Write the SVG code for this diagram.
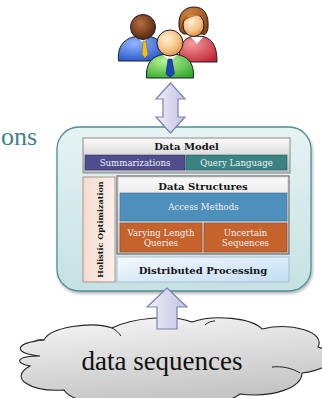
<svg xmlns="http://www.w3.org/2000/svg" width="322" height="398" viewBox="0 0 322 398">
  <style>
    .title { font-family: "DejaVu Serif", "Liberation Serif", serif; font-weight: bold; font-size: 10px; fill: #151515; text-anchor: middle; }
    .lbl { font-family: "DejaVu Serif", "Liberation Serif", serif; font-size: 8.6px; fill: #eef0f4; text-anchor: middle; }
    .panel { stroke: #8a8a8a; stroke-width: 1; }
    .arrow { fill: url(#arrowFill); stroke: #7f7fb2; stroke-width: 1.2; stroke-linejoin: miter; }
    .outline { stroke: #1e1e2a; stroke-width: 1; }
    .fold { fill: none; stroke: #222; stroke-width: 1; }
  </style>
  <defs>
    <linearGradient id="containerFill" x1="0" y1="0" x2="0" y2="1">
      <stop offset="0" stop-color="#e6f3f3"/>
      <stop offset="1" stop-color="#c6e1e3"/>
    </linearGradient>
    <linearGradient id="grayFill" x1="0" y1="0" x2="0" y2="1">
      <stop offset="0" stop-color="#fafafa"/>
      <stop offset="1" stop-color="#bdbdbd"/>
    </linearGradient>
    <linearGradient id="peachFill" x1="0" y1="0" x2="1" y2="0">
      <stop offset="0" stop-color="#f3dccf"/>
      <stop offset="1" stop-color="#fbf0ea"/>
    </linearGradient>
    <linearGradient id="blueLight" x1="0" y1="0" x2="1" y2="1">
      <stop offset="0" stop-color="#f4f9fe"/>
      <stop offset="1" stop-color="#c3ddf3"/>
    </linearGradient>
    <linearGradient id="arrowFill" x1="0" y1="0" x2="1" y2="0">
      <stop offset="0" stop-color="#eeeef9"/>
      <stop offset="1" stop-color="#c3c3e2"/>
    </linearGradient>
    <linearGradient id="cloudFill" x1="0" y1="0" x2="0.3" y2="1">
      <stop offset="0" stop-color="#f7f7f7"/>
      <stop offset="1" stop-color="#c4c4c4"/>
    </linearGradient>
    <radialGradient id="skin" cx="0.4" cy="0.35" r="0.7">
      <stop offset="0" stop-color="#fff0d8"/>
      <stop offset="0.6" stop-color="#f7c384"/>
      <stop offset="1" stop-color="#d98a3e"/>
    </radialGradient>
    <radialGradient id="brownSkin" cx="0.4" cy="0.35" r="0.7">
      <stop offset="0" stop-color="#b86d40"/>
      <stop offset="1" stop-color="#4e230c"/>
    </radialGradient>
    <radialGradient id="hair" cx="0.4" cy="0.3" r="0.7">
      <stop offset="0" stop-color="#d88a40"/>
      <stop offset="1" stop-color="#8a4414"/>
    </radialGradient>
    <radialGradient id="blueBody" cx="0.35" cy="0.3" r="0.8">
      <stop offset="0" stop-color="#8fb6ff"/>
      <stop offset="1" stop-color="#2350c8"/>
    </radialGradient>
    <radialGradient id="redBody" cx="0.35" cy="0.3" r="0.8">
      <stop offset="0" stop-color="#f59a9a"/>
      <stop offset="1" stop-color="#c02838"/>
    </radialGradient>
    <radialGradient id="greenBody" cx="0.4" cy="0.3" r="0.8">
      <stop offset="0" stop-color="#b8f59a"/>
      <stop offset="1" stop-color="#30a828"/>
    </radialGradient>
    <filter id="soft" x="-10%" y="-10%" width="120%" height="120%">
      <feGaussianBlur in="SourceAlpha" stdDeviation="1.5"/>
      <feOffset dx="1" dy="1.5"/>
      <feComponentTransfer><feFuncA type="linear" slope="0.3"/></feComponentTransfer>
      <feMerge><feMergeNode/><feMergeNode in="SourceGraphic"/></feMerge>
    </filter>
  </defs>

  <!-- partial heading at the left edge -->
  <text x="1" y="145" font-family="Liberation Serif, serif" font-size="26" fill="#3d8488">ons</text>

  <!-- users -->
  <g id="users">
    <!-- back left -->
    <path class="outline" fill="url(#blueBody)" d="M118.5 61 C117 44 126 36 143 36 C158 36 166 43 166 61 Z"/>
    <path fill="#ffffff" d="M137 37 L143 43 L149 37 Z"/>
    <path fill="#e8c020" stroke="#806010" stroke-width="0.5" d="M143 41 L146 41 L148 55 L144.5 58 L142 54 Z"/>
    <circle class="outline" cx="143" cy="27" r="12.5" fill="url(#brownSkin)"/>
    <!-- back right -->
    <path class="outline" fill="url(#redBody)" d="M179 62 C178 44 185 36 197 36 C211 36 217 44 217 62 Z"/>
    <path fill="#ffffff" d="M191 37 L197 44 L203 37 Z"/>
    <path class="outline" fill="url(#hair)" d="M179 26 C178 12 186 7 194 7 C204 7 209 14 208 28 C207 34 204 36 203 34 L184 34 C181 33 179 30 179 26 Z"/>
    <ellipse class="outline" cx="193.5" cy="25" rx="10.5" ry="11.5" fill="url(#skin)"/>
    <path fill="url(#hair)" d="M183 22 C184 12 196 10 204 16 C198 15 190 16 183 22 Z"/>
    <!-- front -->
    <path class="outline" fill="url(#greenBody)" d="M146.5 78 C145.5 61 154 54 170 54 C186 54 194.5 61 193.5 78 Z"/>
    <path fill="#ffffff" d="M163 55 L170 62 L177 55 Z"/>
    <path fill="#1d46b8" stroke="#0c1e60" stroke-width="0.5" d="M168 59 L172 59 L174.5 74 L170 77.5 L166 74 Z"/>
    <circle class="outline" cx="170" cy="43" r="13" fill="url(#skin)"/>
  </g>

  <!-- system container -->
  <g id="system">
    <rect x="57" y="127" width="254" height="164" rx="22" fill="url(#containerFill)" stroke="#4f8f92" stroke-width="1.3" filter="url(#soft)"/>
  </g>

  <g id="data-model">
    <rect class="panel" x="83" y="138" width="207" height="35" fill="url(#grayFill)"/>
    <text class="title" x="186.5" y="150">Data Model</text>
  </g>
  <g id="summarizations">
    <rect x="85" y="155" width="100" height="15" fill="#4e4e8e" stroke="#35356a" stroke-width="0.6"/>
    <text class="lbl" x="135" y="165.5">Summarizations</text>
  </g>
  <g id="query-language">
    <rect x="186" y="155" width="101" height="15" fill="#3a8383" stroke="#275f5f" stroke-width="0.6"/>
    <text class="lbl" x="236.5" y="165.5">Query Language</text>
  </g>

  <g id="holistic-optimization">
    <rect x="83" y="177" width="32" height="105" fill="url(#peachFill)" stroke="#9a8274" stroke-width="0.8"/>
    <text class="title" transform="translate(102.5 229.5) rotate(-90)" style="font-size:8px">Holistic Optimization</text>
  </g>

  <g id="data-structures">
    <rect x="117" y="176" width="172" height="78" fill="url(#grayFill)" stroke="#6e6e6e" stroke-width="1.2"/>
    <rect x="118.5" y="177.5" width="169" height="75" fill="none" stroke="#d8d8d8" stroke-width="0.6"/>
    <text class="title" x="203" y="189.5">Data Structures</text>
  </g>
  <g id="access-methods">
    <rect x="120" y="193" width="167" height="28" fill="#4f8fbb" stroke="#3a7098" stroke-width="0.6"/>
    <text class="lbl" x="203.5" y="210">Access Methods</text>
  </g>
  <g id="varying-length-queries">
    <rect x="120" y="223" width="82" height="29" fill="#c6622c" stroke="#8e4318" stroke-width="0.6"/>
    <text class="lbl" x="161" y="235.5">Varying Length</text>
    <text class="lbl" x="161" y="245.5">Queries</text>
  </g>
  <g id="uncertain-sequences">
    <rect x="204" y="223" width="83" height="29" fill="#c6622c" stroke="#8e4318" stroke-width="0.6"/>
    <text class="lbl" x="245.5" y="235.5">Uncertain</text>
    <text class="lbl" x="245.5" y="245.5">Sequences</text>
  </g>
  <g id="distributed-processing">
    <rect x="117" y="257" width="172" height="25" fill="url(#blueLight)" stroke="#9fb7cc" stroke-width="0.8"/>
    <text class="title" x="203" y="273.5">Distributed Processing</text>
  </g>

  <!-- data source cloud -->
  <g id="data-sequences">
    <path fill="url(#cloudFill)" stroke="#222" stroke-width="1.1" d="M40 356 C14 354 12 343 44 340 C50 327 92 321 112 328 C132 318 172 314 192 322 C214 314 252 318 262 329 C292 322 326 332 318 347 C336 352 338 368 302 373 C302 388 272 398 240 394 C222 408 172 408 150 400 C120 408 72 404 64 390 C30 392 8 378 30 366 C14 363 16 356 40 356 Z"/>
    <path class="fold" d="M33 342 C36 340 40 339 44 340"/>
    <path class="fold" d="M205 325 C208 322 212 321 215 321"/>
    <path class="fold" d="M300 373 C292 368 282 366 272 367"/>
    <path class="fold" d="M112 328 C116 330 119 333 121 336"/>
    <text x="162" y="370" font-family="Liberation Serif, serif" font-size="27" fill="#111" text-anchor="middle">data sequences</text>
  </g>

  <g id="connectors">
    <!-- two-way arrow between users and the system -->
    <path class="arrow" d="M170.5 83 L185 99 L178 99 L178 117 L185 117 L170.5 133 L156 117 L163 117 L163 99 L156 99 Z"/>
    <!-- upward arrow from the data into the system -->
    <path class="arrow" d="M167 288 L187 307 L177 307 L177 329 L157 329 L157 307 L147 307 Z"/>
  </g>
</svg>
